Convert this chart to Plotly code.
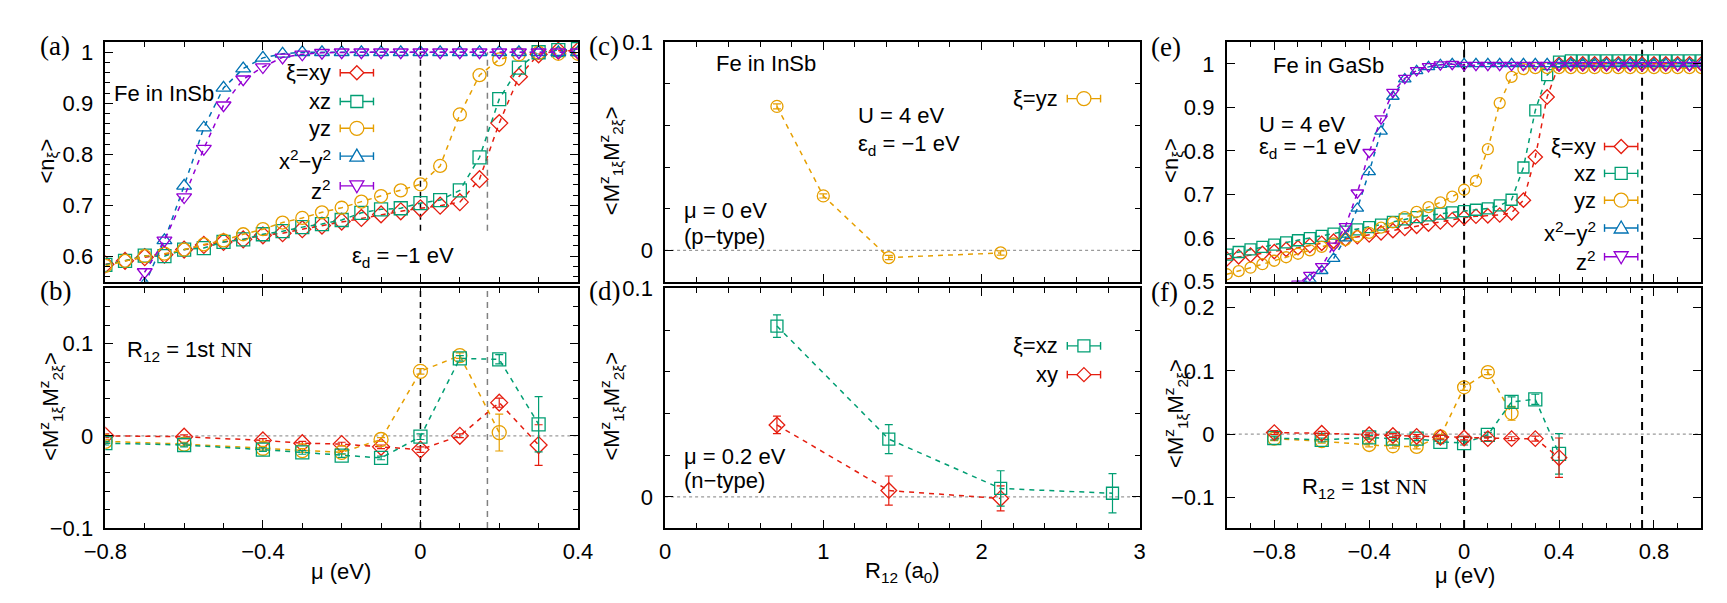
import plotly.graph_objects as go

W, H = 1727, 603
FONT = "Liberation Sans, Arial, Helvetica, sans-serif"
SERIF = "Liberation Serif, Times New Roman, serif"

C_XY, C_XZ, C_YZ, C_X2Y2, C_Z2 = "#e51e10", "#009e73", "#e69f00", "#0072b2", "#9400d3"

# ---------------- data ----------------
# (a) Fe in InSb, occupation vs mu
mu_a = [-0.8, -0.75, -0.7, -0.65, -0.6, -0.55, -0.5, -0.45, -0.4, -0.35, -0.3, -0.25,
        -0.2, -0.15, -0.1, -0.05, 0.0, 0.05, 0.1, 0.15, 0.2, 0.25, 0.3, 0.35, 0.4]
n_a_xy = [0.584, 0.591, 0.598, 0.603, 0.613, 0.622, 0.628, 0.633, 0.641, 0.645, 0.653, 0.660,
          0.668, 0.675, 0.682, 0.688, 0.694, 0.699, 0.706, 0.751, 0.861, 0.952, 0.996, 1.003, 1.003]
n_a_xz = [0.583, 0.591, 0.601, 0.600, 0.613, 0.616, 0.628, 0.633, 0.643, 0.649, 0.657, 0.663,
          0.671, 0.685, 0.692, 0.694, 0.704, 0.710, 0.729, 0.794, 0.908, 0.970, 1.000, 1.004, 1.006]
n_a_yz = [0.581, 0.591, 0.600, 0.605, 0.613, 0.623, 0.631, 0.643, 0.653, 0.666, 0.675, 0.686,
          0.695, 0.707, 0.718, 0.729, 0.741, 0.777, 0.878, 0.955, 0.986, 0.996, 0.999, 0.997, 0.997]
n_a_x2y2 = [None, 0.500, 0.545, 0.631, 0.738, 0.852, 0.930, 0.968, 0.989, 0.997, 1.000, 1.000,
            1.000, 1.000, 1.000, 1.000, 1.000, 1.000, 1.000, 1.000, 1.000, 1.000, 1.000, 1.000, 1.000]
n_a_z2 = [None, 0.500, 0.569, 0.631, 0.716, 0.811, 0.896, 0.947, 0.971, 0.990, 0.996, 0.999,
          1.000, 1.000, 1.000, 1.000, 1.000, 1.000, 1.000, 1.000, 1.000, 1.000, 1.000, 1.000, 1.000]

# (b) Fe in InSb, correlation vs mu (1st NN)
mu_b = [-0.8, -0.6, -0.4, -0.3, -0.2, -0.1, 0.0, 0.1, 0.2, 0.3]
m_b_xy = [0.000, -0.001, -0.005, -0.008, -0.009, -0.012, -0.015, 0.000, 0.036, -0.010]
e_b_xy = [0.002, 0.002, 0.002, 0.002, 0.002, 0.002, 0.003, 0.002, 0.005, 0.022]
m_b_xz = [-0.008, -0.010, -0.015, -0.018, -0.0215, -0.024, -0.001, 0.084, 0.083, 0.0125]
e_b_xz = [0.002, 0.002, 0.002, 0.002, 0.002, 0.002, 0.003, 0.003, 0.005, 0.030]
m_b_yz = [-0.006, -0.009, -0.0135, -0.016, -0.018, -0.004, 0.070, 0.087, 0.0035, None]
e_b_yz = [0.002, 0.002, 0.002, 0.002, 0.002, 0.002, 0.003, 0.003, 0.020, 0.0]

# (c) mu = 0 eV, vs R12
r_c = [0.707, 1.0, 1.414, 2.121]
m_c_yz = [0.0692, 0.0262, -0.0034, -0.0012]
e_c_yz = [0.0012, 0.0010, 0.0010, 0.0010]

# (d) mu = 0.2 eV, vs R12
r_d_xz = [0.707, 1.414, 2.121, 2.828]
m_d_xz = [0.082, 0.0277, 0.004, 0.0017]
e_d_xz = [0.0054, 0.0070, 0.0085, 0.0094]
r_d_xy = [0.707, 1.414, 2.121]
m_d_xy = [0.0345, 0.003, -0.0008]
e_d_xy = [0.0042, 0.0070, 0.0060]

# (e) Fe in GaSb, occupation vs mu
mu_e = [-1.0, -0.95, -0.9, -0.85, -0.8, -0.75, -0.7, -0.65, -0.6, -0.55, -0.5, -0.45, -0.4,
        -0.35, -0.3, -0.25, -0.2, -0.15, -0.1, -0.05, 0.0, 0.05, 0.1, 0.15, 0.2, 0.25, 0.3,
        0.35, 0.4, 0.45, 0.5, 0.55, 0.6, 0.65, 0.7, 0.75, 0.8, 0.85, 0.9, 0.95, 1.0]
n_e_xy = [0.552, 0.557, 0.561, 0.565, 0.569, 0.574, 0.578, 0.583, 0.588, 0.593, 0.598, 0.603, 0.607,
          0.612, 0.617, 0.622, 0.627, 0.632, 0.637, 0.642, 0.647, 0.650, 0.651, 0.653, 0.658, 0.687,
          0.786, 0.924, 0.999, 1.0, 1.0, 1.0, 1.0, 1.0, 1.0, 1.0, 1.0, 1.0, 1.0, 1.0, 1.0]
n_e_xz = [0.562, 0.568, 0.574, 0.580, 0.585, 0.590, 0.595, 0.600, 0.605, 0.610, 0.615, 0.620, 0.625,
          0.631, 0.637, 0.643, 0.648, 0.652, 0.656, 0.659, 0.662, 0.665, 0.668, 0.675, 0.688, 0.762,
          0.893, 0.974, 1.005, 1.008, 1.008, 1.008, 1.008, 1.008, 1.008, 1.008, 1.008, 1.008, 1.008,
          1.008, 1.008]
n_e_yz = [0.517, 0.524, 0.532, 0.540, 0.548, 0.556, 0.564, 0.572, 0.580, 0.588, 0.596, 0.604, 0.612,
          0.624, 0.636, 0.648, 0.660, 0.671, 0.682, 0.695, 0.711, 0.731, 0.804, 0.910, 0.970, 0.988,
          0.990, 0.990, 0.990, 0.990, 0.990, 0.990, 0.990, 0.990, 0.990, 0.990, 0.990, 0.990, 0.990,
          0.990, 0.990]
n_e_x2y2 = [None, None, None, None, None, 0.470, 0.490, 0.505, 0.525, 0.553, 0.600, 0.668, 0.752,
            0.845, 0.925, 0.965, 0.984, 0.993, 0.998, 1.0, 1.0, 1.0, 1.0, 1.0, 1.0, 1.0, 1.0, 1.0,
            1.0, 1.0, 1.0, 1.0, 1.0, 1.0, 1.0, 1.0, 1.0, 1.0, 1.0, 1.0, 1.0]
n_e_z2 = [None, None, None, None, None, 0.475, 0.495, 0.515, 0.535, 0.582, 0.627, 0.704, 0.797,
          0.874, 0.935, 0.967, 0.985, 0.994, 0.998, 0.999, 0.997, 0.997, 0.997, 0.997, 0.997, 0.997,
          0.997, 0.997, 0.997, 0.997, 0.997, 0.997, 0.997, 0.997, 0.997, 0.997, 0.997, 0.997, 0.997,
          0.997, 0.997]

# (f) Fe in GaSb, correlation vs mu (1st NN)
mu_f = [-0.8, -0.6, -0.4, -0.3, -0.2, -0.1, 0.0, 0.1, 0.2, 0.3, 0.4]
m_f_xy = [0.0025, 0.0015, -0.001, -0.002, -0.0035, -0.005, -0.006, -0.007, -0.007, -0.007, -0.037]
e_f_xy = [0.003, 0.003, 0.003, 0.003, 0.003, 0.003, 0.003, 0.003, 0.003, 0.004, 0.031]
m_f_xz = [-0.006, -0.009, -0.005, -0.007, -0.007, -0.012, -0.014, -0.001, 0.051, 0.055, -0.031]
e_f_xz = [0.003, 0.003, 0.003, 0.003, 0.003, 0.003, 0.003, 0.004, 0.008, 0.008, 0.032]
m_f_yz = [-0.007, -0.011, -0.017, -0.019, -0.020, -0.0035, 0.074, 0.098, 0.033, None, None]
e_f_yz = [0.003, 0.003, 0.003, 0.003, 0.003, 0.003, 0.005, 0.004, 0.011, 0.0, 0.0]

series_labels = ["ξ=xy", "xz", "yz", "x<sup>2</sup>−y<sup>2</sup>", "z<sup>2</sup>"]
series_colors = [C_XY, C_XZ, C_YZ, C_X2Y2, C_Z2]
series_symbols = ["diamond", "square", "circle", "triangle-up", "triangle-down"]

# ---------------- layout geometry (pixels) ----------------
colA, colC, colE = (77, 560), (649, 1134), (1223, 1708)
rowT, rowB = (23, 273), (280, 530)


def xdom(c):
    return [c[0] / W, c[1] / W]


def ydom(r):
    return [1 - r[1] / H, 1 - r[0] / H]


fig = go.Figure()


def add(x, y, color, symbol, size, ax, err=None):
    kw = {}
    if err is not None:
        kw["error_y"] = dict(type="data", array=err, color=color, thickness=1.2, width=4)
    fig.add_trace(go.Scatter(
        x=x, y=y, xaxis="x" + ax, yaxis="y" + ax, mode="lines+markers",
        line=dict(color=color, width=1.5, dash="5px,5px"),
        marker=dict(symbol=symbol + "-open", size=size, color=color, line=dict(width=1.3)),
        showlegend=False, hoverinfo="skip", **kw))


# (a)
for yv, c, s in zip([n_a_xy, n_a_xz, n_a_yz, n_a_x2y2, n_a_z2], series_colors, series_symbols):
    add(mu_a, yv, c, s, 13, "")
# (b)
add(mu_b, m_b_xy, C_XY, "diamond", 13, "2", e_b_xy)
add(mu_b, m_b_yz, C_YZ, "circle", 14, "2", e_b_yz)
add(mu_b, m_b_xz, C_XZ, "square", 13, "2", e_b_xz)
# (c)
add(r_c, m_c_yz, C_YZ, "circle", 12, "3", e_c_yz)
# (d)
add(r_d_xy, m_d_xy, C_XY, "diamond", 12, "4", e_d_xy)
add(r_d_xz, m_d_xz, C_XZ, "square", 12, "4", e_d_xz)
# (e)
for yv, c, s in zip([n_e_xy, n_e_xz, n_e_yz, n_e_x2y2, n_e_z2], series_colors, series_symbols):
    add(mu_e, yv, c, s, 11, "5")
# (f)
add(mu_f, m_f_yz, C_YZ, "circle", 13, "6", e_f_yz)
add(mu_f, m_f_xz, C_XZ, "square", 13, "6", e_f_xz)
add(mu_f, m_f_xy, C_XY, "diamond", 12, "6", e_f_xy)

tickfont = dict(family=FONT, size=22, color="black")


def axis(domain, anchor, rng, dtick, tick0, minor, labels, lw=1.5, standoff=6):
    return dict(domain=domain, anchor=anchor, range=rng, showline=True, mirror="ticks",
                linecolor="black", linewidth=lw, ticks="inside", ticklen=8, tickwidth=1.2,
                tickcolor="black", dtick=dtick, tick0=tick0,
                minor=dict(dtick=minor, ticks="inside", ticklen=5, tickcolor="black", tickwidth=1),
                showticklabels=labels, showgrid=False, zeroline=False, tickfont=tickfont,
                ticklabelstandoff=standoff)


fig.update_layout(
    width=W, height=H, autosize=False, margin=dict(l=0, r=0, t=0, b=0),
    paper_bgcolor="white", plot_bgcolor="white", showlegend=False,
    xaxis=axis(xdom(colA), "y", [-0.8, 0.4], 0.4, -0.8, 0.1, False),
    yaxis=axis(ydom(rowT), "x", [0.55, 1.02], 0.1, 0, 0.02, True),
    xaxis2=axis(xdom(colA), "y2", [-0.8, 0.4], 0.4, -0.8, 0.1, True, standoff=3),
    yaxis2=axis(ydom(rowB), "x2", [-0.1001, 0.16], 0.1, 0, 0.02, True),
    xaxis3=axis(xdom(colC), "y3", [0, 3], 1, 0, 0.2, False),
    yaxis3=axis(ydom(rowT), "x3", [-0.015, 0.1001], 0.1, 0, 0.02, True),
    xaxis4=axis(xdom(colC), "y4", [0, 3], 1, 0, 0.2, True, standoff=3),
    yaxis4=axis(ydom(rowB), "x4", [-0.015, 0.1001], 0.1, 0, 0.02, True),
    xaxis5=axis(xdom(colE), "y5", [-1, 1], 0.4, -0.8, 0.1, False, 2),
    yaxis5=axis(ydom(rowT), "x5", [0.4999, 1.05], 0.1, 0, 0.1, True, 2),
    xaxis6=axis(xdom(colE), "y6", [-1, 1], 0.4, -0.8, 0.1, True, 2, standoff=3),
    yaxis6=axis(ydom(rowB), "x6", [-0.148, 0.23], 0.1, 0, 0.1, True, 2),
)

# ---------------- reference lines ----------------
mu_marker_a = 0.17
mu_marker_e = 0.75


def vline(x, ax, y0, y1, yref, color, dash, width=1.5):
    fig.add_shape(type="line", xref="x" + ax, yref=yref, x0=x, x1=x, y0=y0, y1=y1,
                  line=dict(color=color, width=width, dash=dash), layer="below")


def hzero(ax):
    fig.add_shape(type="line", xref="x" + ax + " domain", yref="y" + ax, x0=0, x1=1, y0=0, y1=0,
                  line=dict(color="#9a9a9a", width=1.2, dash="dot"), layer="below")


vline(0, "", 0.65, 1.0, "y", "black", "6px,5px")
vline(mu_marker_a, "", 0.65, 1.0, "y", "#808080", "6px,5px")
vline(0, "2", 0, 1, "y2 domain", "black", "6px,5px")
vline(mu_marker_a, "2", 0, 1, "y2 domain", "#808080", "6px,5px")
hzero("2")
hzero("3")
hzero("4")
for ax in ("5", "6"):
    vline(0, ax, 0, 1, "y" + ax + " domain", "black", "8px,6px", 2)
    vline(mu_marker_e, ax, 0, 1, "y" + ax + " domain", "black", "8px,6px", 2)
hzero("6")


# ---------------- text helpers ----------------
def px(x):
    return x / W


def py(y):
    return 1 - y / H


def txt(text, x, y, xanchor="left", size=22, family=FONT, angle=0):
    fig.add_annotation(text=text, x=px(x), y=py(y), xref="paper", yref="paper",
                       xanchor=xanchor, yanchor="middle", showarrow=False, textangle=angle,
                       font=dict(family=family, size=size, color="black"))


PATHS = {
    "diamond": "M0,7 L7,0 L0,-7 L-7,0 Z",
    "square": "M-6,-6 L6,-6 L6,6 L-6,6 Z",
    "triangle-up": "M-7,-5 L7,-5 L0,7 Z",
    "triangle-down": "M-7,5 L7,5 L0,-7 Z",
}


def glyph(cx, cy, color, sym, half=17):
    ln = dict(color=color, width=1.4)
    fig.add_shape(type="line", xref="paper", yref="paper", x0=px(cx - half), x1=px(cx + half),
                  y0=py(cy), y1=py(cy), line=ln)
    for ex in (cx - half, cx + half):
        fig.add_shape(type="line", xref="paper", yref="paper", x0=px(ex), x1=px(ex),
                      y0=py(cy - 4), y1=py(cy + 4), line=ln)
    if sym == "circle":
        fig.add_shape(type="circle", xref="paper", yref="paper", xsizemode="pixel",
                      ysizemode="pixel", xanchor=px(cx), yanchor=py(cy), x0=-7, x1=7, y0=-7, y1=7,
                      line=dict(color=color, width=1.3), fillcolor="white")
    else:
        fig.add_shape(type="path", xref="paper", yref="paper", xsizemode="pixel",
                      ysizemode="pixel", xanchor=px(cx), yanchor=py(cy), path=PATHS[sym],
                      line=dict(color=color, width=1.3), fillcolor="white")


def legend(text_right, glyph_cx, rows, idx):
    for ry, i in zip(rows, idx):
        dy = 4 if "sup" in series_labels[i] else 0
        txt(series_labels[i], text_right, ry + dy, "right")
        glyph(glyph_cx, ry, series_colors[i], series_symbols[i])


# panel labels
for lab, x, y in [("(a)", 8, 27), ("(b)", 8, 283), ("(c)", 569, 27), ("(d)", 569, 283),
                  ("(e)", 1143, 28), ("(f)", 1143, 284)]:
    txt(lab, x, y, size=27, family=SERIF)

NN = "R<sub>12</sub> = 1st <span style='font-family:Liberation Serif'>NN</span>"
MM = "&lt;M<sup>z</sup><sub>1ξ</sub>M<sup>z</sup><sub>2ξ</sub>&gt;"
NX = "&lt;n<sub>ξ</sub>&gt;"

# (a)
txt("Fe in InSb", 84, 77)
txt("ε<sub>d</sub> = −1 eV", 381, 247, "center")
legend(310, 334, [55, 85, 113, 142, 173], [0, 1, 2, 3, 4])
txt(NX, 18, 147, "center", angle=-90)
# (b)
txt(NN, 97, 345)
txt(MM, 21, 403, "center", angle=-90)
txt("μ (eV)", 318, 575, "center")
# (c)
txt("Fe in InSb", 699, 45)
txt("U = 4 eV", 844, 100)
txt("ε<sub>d</sub> = −1 eV", 844, 130)
txt("μ = 0 eV", 666, 199)
txt("(p−type)", 666, 226)
txt("ξ=yz", 1053, 82, "right")
glyph(1077, 82, C_YZ, "circle")
txt(MM, 594, 147, "center", angle=-90)
# (d)
txt("μ = 0.2 eV", 666, 455)
txt("(n−type)", 666, 480)
txt("ξ=xz", 1053, 340, "right")
glyph(1077, 340, C_XZ, "square")
txt("xy", 1053, 370, "right")
glyph(1077, 370, C_XY, "diamond")
txt(MM, 594, 403, "center", angle=-90)
txt("R<sub>12</sub> (a<sub>0</sub>)", 892, 576, "center")
# (e)
txt("Fe in GaSb", 1268, 47)
txt("U = 4 eV", 1254, 109)
txt("ε<sub>d</sub> = −1 eV", 1254, 134)
legend(1602, 1626, [132, 160, 188, 217, 247], [0, 1, 2, 3, 4])
txt(NX, 1167, 146, "center", angle=-90)
# (f)
txt(NN, 1298, 488)
txt(MM, 1170, 410, "center", angle=-90)
txt("μ (eV)", 1466, 580, "center")

fig.write_html("out.html")
